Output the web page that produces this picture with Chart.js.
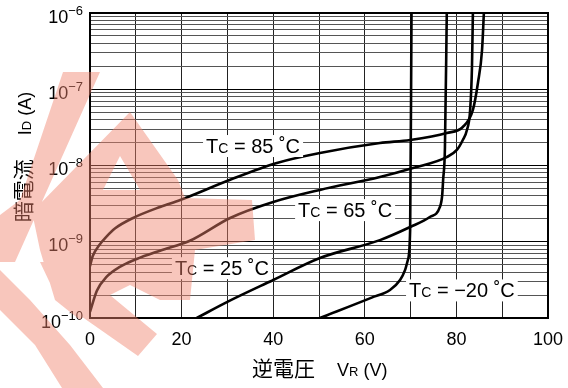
<!DOCTYPE html>
<html>
<head>
<meta charset="utf-8">
<script src="https://cdn.jsdelivr.net/npm/chart.js@4.4.1/dist/chart.umd.min.js"></script>
<style>
  html, body { margin: 0; padding: 0; background: #fff; }
  #wrap { width: 568px; height: 388px; }
</style>
</head>
<body>
<div id="wrap"><canvas id="myChart"></canvas></div>
<script>
// reverse voltage (V) and dark current (A)
var volts85 = [0, 0.6, 2.0, 3.5, 5.5, 9.4, 15.3, 19.7, 30.6, 40.8, 50.2, 63.3, 69.9, 77.9, 81.4, 83.6, 84.7, 85.6, 86.0];
var amps85 = [4.8e-10, 6.5e-10, 9.0e-10, 1.15e-9, 1.5e-9, 2.05e-9, 2.86e-9, 3.53e-9, 6.5e-9, 1.08e-8, 1.46e-8, 1.97e-8, 2.16e-8, 2.67e-8, 3.2e-8, 5.35e-8, 1.21e-7, 3.27e-7, 1e-6];

var volts65 = [0, 1.5, 3.6, 6.5, 10.2, 15.3, 21.8, 30.6, 40.0, 50.2, 63.3, 70.5, 77.9, 80.1, 81.4, 82.3, 83.0, 83.4, 83.6];
var amps65 = [1.2e-10, 2.28e-10, 3.45e-10, 4.67e-10, 5.94e-10, 7.64e-10, 1.03e-9, 2.05e-9, 3.32e-9, 4.78e-9, 7.06e-9, 9.27e-9, 1.29e-8, 1.6e-8, 2.16e-8, 2.92e-8, 5.35e-8, 1.96e-7, 1e-6];

var volts25 = [23.3, 30.1, 40.0, 50.2, 63.3, 69.9, 74.2, 76.4, 76.9, 77.1, 77.5, 77.9];
var amps25 = [1e-10, 1.64e-10, 3.15e-10, 6.12e-10, 1.05e-9, 1.56e-9, 2.11e-9, 2.86e-9, 4.1e-9, 6.46e-9, 1.75e-8, 1e-6];

var voltsM20 = [50.2, 61.5, 65.5, 67.7, 68.8, 69.4, 69.9, 70.2];
var ampsM20 = [1e-10, 1.85e-10, 2.33e-10, 3.15e-10, 4.27e-10, 5.77e-10, 1.43e-9, 1e-6];

var xTickLabels = ["0", "20", "40", "60", "80", "100"];
var yExponents = [-10, -9, -8, -7, -6];

var curveNames = ["85", "65", "25", "\u221220"];
var labelVolts = [35.6, 55.7, 28.8, 81.2];
var labelAmps = [1.8e-8, 2.6e-9, 4.5e-10, 2.3e-10];

var SANS = '"Liberation Sans", Arial, sans-serif';
var CJK = '"Noto Sans CJK JP", sans-serif';

function pts(xs, ys) {
  var out = [];
  for (var i = 0; i < xs.length; i++) out.push({x: xs[i], y: ys[i]});
  return out;
}

function curve(xs, ys) {
  return {
    data: pts(xs, ys),
    borderColor: "#000",
    borderWidth: 2.6,
    pointRadius: 0,
    fill: false,
    cubicInterpolationMode: "monotone"
  };
}

// draw a row of text pieces with different fonts, starting at x
function drawParts(ctx, parts, x, y) {
  for (var i = 0; i < parts.length; i++) {
    ctx.font = parts[i][1];
    if (parts[i][0] !== "") ctx.fillText(parts[i][0], x, y);
    x += parts[i][2] !== undefined ? parts[i][2] : ctx.measureText(parts[i][0]).width;
  }
  return x;
}
function partsWidth(ctx, parts) {
  var w = 0;
  for (var i = 0; i < parts.length; i++) {
    ctx.font = parts[i][1];
    w += parts[i][2] !== undefined ? parts[i][2] : ctx.measureText(parts[i][0]).width;
  }
  return w;
}

function addPoly(ctx, p) {
  ctx.moveTo(p[0][0], p[0][1]);
  for (var q = 1; q < p.length; q++) ctx.lineTo(p[q][0], p[q][1]);
  ctx.closePath();
}

var textPlugin = {
  id: "texts",
  afterDatasetsDraw: function(chart) {
    var ctx = chart.ctx, xs = chart.scales.x, ys = chart.scales.y, a = chart.chartArea;
    ctx.save();
    // frame
    ctx.strokeStyle = "#000";
    ctx.lineWidth = 2;
    ctx.strokeRect(a.left, a.top, a.right - a.left, a.bottom - a.top);

    ctx.fillStyle = "#000";
    ctx.textBaseline = "alphabetic";
    // x tick labels
    ctx.textAlign = "center";
    ctx.font = "18px " + SANS;
    for (var i = 0; i < xTickLabels.length; i++) {
      ctx.fillText(xTickLabels[i], xs.getPixelForValue(Number(xTickLabels[i])), 345);
    }
    // y tick labels 10^n
    ctx.textAlign = "right";
    for (var j = 0; j < yExponents.length; j++) {
      var py = ys.getPixelForValue(Math.pow(10, yExponents[j]));
      var ex = "\u2212" + Math.abs(yExponents[j]);
      ctx.font = "13px " + SANS;
      var ew = ctx.measureText(ex).width;
      ctx.fillText(ex, 83, py + 1.5);
      ctx.font = "18px " + SANS;
      ctx.fillText("10", 83 - ew, py + 9.5);
    }

    // curve labels on white boxes
    ctx.textAlign = "left";
    for (var k = 0; k < curveNames.length; k++) {
      var parts = [["T", "20px " + SANS], ["C", "14px " + SANS], [" = " + curveNames[k] + " \u02DAC", "20px " + SANS]];
      var w = partsWidth(ctx, parts);
      var cx = xs.getPixelForValue(labelVolts[k]);
      var cy = ys.getPixelForValue(labelAmps[k]);
      ctx.fillStyle = "#fff";
      ctx.fillRect(cx - w / 2 - 3, cy - 11, w + 6, 22);
      ctx.fillStyle = "#000";
      drawParts(ctx, parts, cx - w / 2, cy + 7);
    }

    // x axis title
    drawParts(ctx, [["\u9006\u96FB\u5727", "21px " + CJK], ["", "18px " + SANS, 22], ["V", "18px " + SANS], ["R", "13px " + SANS], [" (V)", "18px " + SANS]], 252, 376);

    // y axis title, rotated
    ctx.translate(24, 157);
    ctx.rotate(-Math.PI / 2);
    var yt = [["\u6697\u96FB\u6D41", "21px " + CJK], ["", "18px " + SANS, 24], ["I", "18px " + SANS], ["D", "13px " + SANS], [" (A)", "18px " + SANS]];
    drawParts(ctx, yt, -partsWidth(ctx, yt) / 2, 7);
    ctx.restore();
  },
  afterDraw: function(chart) {
    // red logo watermark over the picture
    var ctx = chart.ctx;
    var shapes = [
      [[63, 72], [100, 72], [15, 262], [0, 262], [0, 215], [20, 200]],
      [[130, 112], [178, 180], [185, 198], [252, 200], [255, 240], [195, 250], [190, 300], [160, 300], [130, 285], [100, 300], [80, 320], [55, 300], [40, 250], [32, 212]],
      [[40, 262], [70, 262], [157, 334], [138, 356], [58, 300]],
      [[0, 270], [30, 300], [70, 345], [103, 388], [62, 388], [35, 345], [0, 310]]
    ];
    var hole = [[120, 156], [103, 190], [140, 190]];
    ctx.save();
    ctx.beginPath();
    ctx.rect(0, 0, chart.width, chart.height);
    addPoly(ctx, hole);
    ctx.clip("evenodd");
    ctx.fillStyle = "rgba(239,130,109,0.46)";
    ctx.beginPath();
    for (var s = 0; s < shapes.length; s++) addPoly(ctx, shapes[s]);
    ctx.fill("nonzero");
    ctx.restore();
  }
};

new Chart("myChart", {
  type: "line",
  data: {
    datasets: [curve(volts85, amps85), curve(volts65, amps65), curve(volts25, amps25), curve(voltsM20, ampsM20)]
  },
  options: {
    responsive: true,
    maintainAspectRatio: false,
    animation: false,
    layout: { padding: { top: 13, right: 20, left: 0, bottom: 0 } },
    plugins: { legend: { display: false }, tooltip: { enabled: false } },
    scales: {
      x: {
        type: "linear",
        min: 0,
        max: 100,
        ticks: { display: false, stepSize: 10 },
        grid: { color: "#222", lineWidth: 1, tickLength: 0 },
        border: { display: false },
        afterFit: function(s) { s.height = 70; }
      },
      y: {
        type: "logarithmic",
        min: 1e-10,
        max: 1e-6,
        ticks: { display: false },
        afterBuildTicks: function(s) {
          var t = [];
          for (var e = -10; e <= -7; e++) {
            for (var m = 1; m <= 9; m++) t.push({ value: m * Math.pow(10, e), major: m === 1 });
          }
          t.push({ value: 1e-6, major: true });
          s.ticks = t;
        },
        grid: {
          tickLength: 0,
          lineWidth: 1,
          color: function(c) { return c.tick && c.tick.major ? "#000" : "#555"; }
        },
        border: { display: false },
        afterFit: function(s) { s.width = 90; }
      }
    }
  },
  plugins: [textPlugin]
});
</script>
</body>
</html>
